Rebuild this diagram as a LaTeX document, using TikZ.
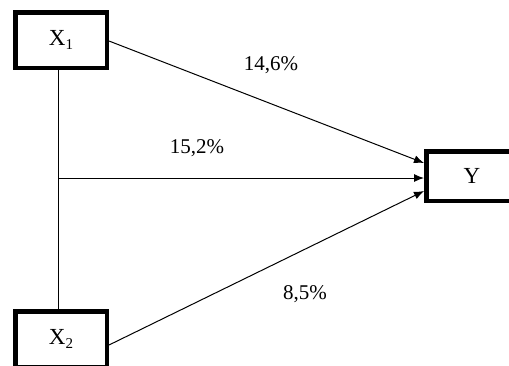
\documentclass[tikz,border=0pt]{standalone}
\usepackage{fontspec}
\setmainfont{Liberation Serif}
\usetikzlibrary{arrows.meta,calc}
\newcommand{\mysub}[1]{\raisebox{-4pt}{\fontsize{15}{15}\selectfont #1}}
\begin{document}
\begin{tikzpicture}[x=1pt,y=-1pt,
  varbox/.style={draw=black,line width=4.5pt,minimum width=91.5pt,minimum height=55.5pt,inner sep=0pt,fill=white,font=\fontsize{23}{23}\selectfont},
  conn/.style={line width=1pt},
  arr/.style={conn,-{Latex[length=10pt,width=8pt]}},
  pct/.style={font=\fontsize{21}{21}\selectfont,inner sep=0pt}]
\useasboundingbox (0,0) rectangle (509,365);
\clip (0,0) rectangle (509,365);
\fill[white] (0,0) rectangle (509,365);
\node[varbox] (X1) at (61,40) {X\mysub{1}};
\node[varbox] (X2) at (61,339) {X\mysub{2}};
\node[varbox,minimum height=49.5pt] (Y) at (472,176) {Y};
\coordinate (J) at ($(X1.south)+(-3,108)$);
\draw[conn] ([xshift=-3pt]X1.south) -- ([xshift=-3pt]X2.north);
\draw[arr] (J) -- (J -| Y.west);
\draw[arr] ([yshift=-1pt]X1.east) -- ($(Y.west)+(0,-13)$);
\draw[arr] ([yshift=-6pt]X2.east) -- ($(Y.west)+(0,15)$);
\node[pct] (l1) at (271,65) {14,6\%};
\node[pct] (l2) at (197,148) {15,2\%};
\node[pct] (l3) at (305,294) {8,5\%};
\end{tikzpicture}
\end{document}
